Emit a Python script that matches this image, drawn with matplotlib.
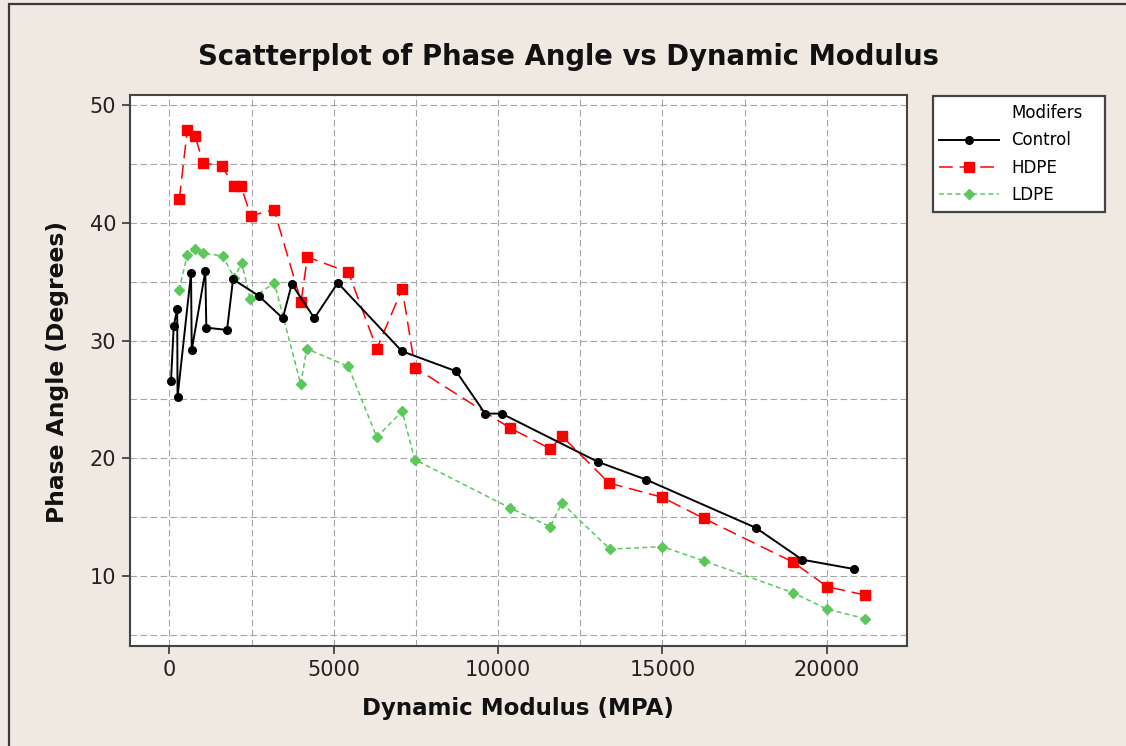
import matplotlib.pyplot as plt
from matplotlib.patches import Rectangle
from matplotlib.lines import Line2D
from matplotlib.ticker import MultipleLocator

# data (MPA, degrees)
control_x = [52, 134, 240, 250, 660, 682, 1095, 1126, 1756, 1938, 2720, 3451, 3725,
             4412, 5125, 7072, 8724, 9607, 10110, 13040, 14500, 17844, 19253, 20836]
control_y = [26.6, 31.2, 32.7, 25.2, 35.7, 29.2, 35.9, 31.1, 30.9, 35.2, 33.8, 31.9, 34.8,
             31.9, 34.9, 29.1, 27.4, 23.8, 23.8, 19.7, 18.2, 14.1, 11.4, 10.6]

hdpe_x = [304, 548, 782, 1025, 1604, 1969, 2182, 2476, 3186, 4008, 4200, 5447, 6311,
          7085, 7472, 10350, 11595, 11940, 13380, 14990, 16260, 18970, 20014, 21161]
hdpe_y = [42.0, 47.9, 47.4, 45.1, 44.8, 43.1, 43.1, 40.6, 41.1, 33.3, 37.1, 35.8, 29.3,
          34.4, 27.7, 22.6, 20.8, 21.9, 17.9, 16.7, 14.9, 11.2, 9.1, 8.4]

ldpe_x = [295, 548, 773, 1025, 1625, 1978, 2203, 2465, 3195, 3998, 4181, 5447, 6311,
          7081, 7467, 10355, 11586, 11942, 13400, 15000, 16260, 18970, 20004, 21161]
ldpe_y = [34.3, 37.3, 37.8, 37.4, 37.2, 35.3, 36.6, 33.5, 34.9, 26.3, 29.3, 27.8, 21.8,
          24.0, 19.9, 15.8, 14.2, 16.2, 12.3, 12.5, 11.3, 8.6, 7.2, 6.4]

bg = '#EFE9E2'
green = '#5CC85C'
plt.rcParams['font.family'] = 'DejaVu Sans'

fig = plt.figure(figsize=(11.26, 7.46), dpi=100, facecolor=bg)
ax = fig.add_axes([130 / 1126, 1 - 646 / 746, 777 / 1126, 551 / 746])
ax.set_facecolor('white')

# outer frame (only top and left edges are visible in the reference)
fig.patches.append(Rectangle((9 / 1126, -0.1), 1.2, 1.1 - 4 / 746, transform=fig.transFigure,
                             fill=False, edgecolor='#3a3a3a', linewidth=1.6, zorder=0))

ax.plot(control_x, control_y, color='black', lw=1.4, marker='o', ms=5.5, zorder=4)
ax.plot(hdpe_x, hdpe_y, color='#FF0000', lw=1.1, dashes=(9, 4.5), marker='s', ms=6.5,
        zorder=3)
ax.plot(ldpe_x, ldpe_y, color=green, lw=1.1, dashes=(3.2, 2.2), marker='D', ms=4.6, zorder=2)

ax.set_xlim(-1196, 22440)
ax.set_ylim(4.07, 50.85)
ax.xaxis.set_major_locator(MultipleLocator(5000))
ax.xaxis.set_minor_locator(MultipleLocator(2500))
ax.yaxis.set_major_locator(MultipleLocator(10))
ax.yaxis.set_minor_locator(MultipleLocator(5))
ax.grid(which='both', color='#a6a6a6', linestyle=(0, (6, 3)), linewidth=0.8)
ax.set_axisbelow(True)
ax.tick_params(which='major', direction='out', length=6, width=1.2, color='#333333',
               labelsize=15, labelcolor='#222222', pad=4)
ax.tick_params(which='minor', length=0)
for s in ax.spines.values():
    s.set_color('#444444')
    s.set_linewidth(1.5)

fig.text(0.505, 1 - 57 / 746, 'Scatterplot of Phase Angle vs Dynamic Modulus',
         ha='center', va='center', fontsize=19.8, fontweight='bold', color='#111111')
fig.text(518 / 1126, 1 - 708 / 746, 'Dynamic Modulus (MPA)', ha='center', va='center',
         fontsize=16.5, fontweight='bold', color='#111111')
fig.text(58 / 1126, 1 - 372 / 746, 'Phase Angle (Degrees)', ha='center', va='center',
         rotation=90, fontsize=16.8, fontweight='bold', color='#111111')

# legend box
fig.patches.append(Rectangle((933 / 1126, 1 - 212 / 746), 172 / 1126, 116 / 746,
                             transform=fig.transFigure, facecolor='white',
                             edgecolor='#444444', linewidth=1.6, zorder=1))
handles = [
    Line2D([], [], color='none'),
    Line2D([], [], color='black', lw=1.4, marker='o', ms=5.5),
    Line2D([], [], color='#FF0000', lw=1.1, dashes=(9, 4.5), marker='s', ms=6.5),
    Line2D([], [], color=green, lw=1.1, dashes=(3.2, 2.2), marker='D', ms=4.6),
]
labels = ['Modifers', 'Control', 'HDPE', 'LDPE']
leg = fig.legend(handles, labels, loc='upper left', bbox_to_anchor=(936 / 1126, 1 - 101 / 746),
                 frameon=False, fontsize=12, numpoints=1, handlelength=3.6,
                 handletextpad=0.7, labelspacing=0.55, borderaxespad=0, borderpad=0.2)
leg.set_zorder(5)

fig.savefig('out.png', dpi=100, facecolor=bg)
